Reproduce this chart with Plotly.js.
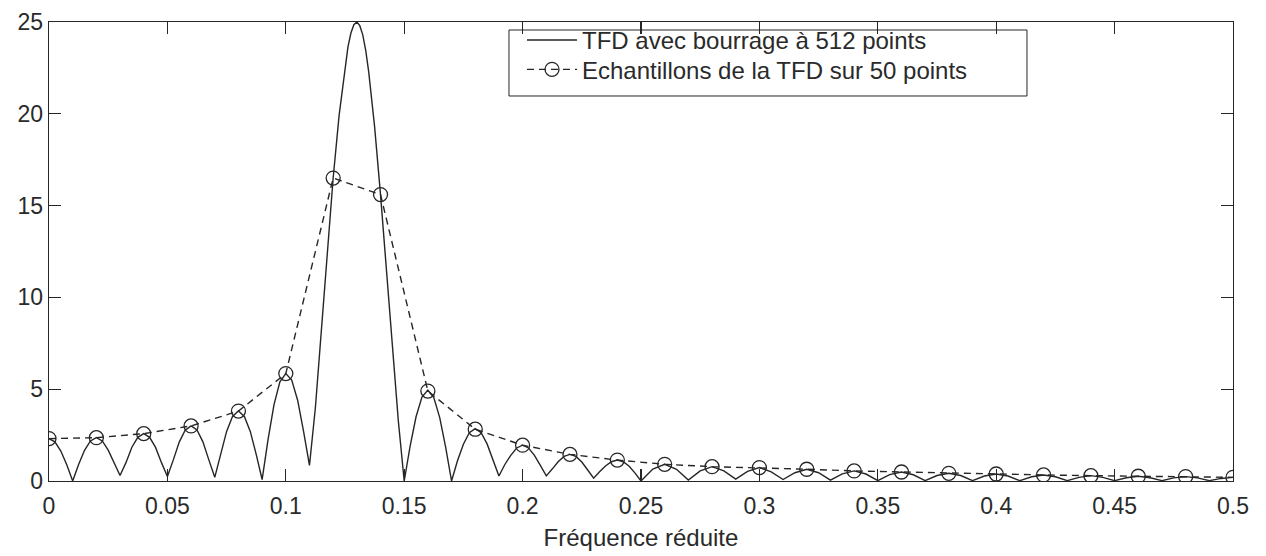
<!DOCTYPE html>
<html>
<head>
<meta charset="utf-8">
<script src="https://cdn.plot.ly/plotly-3.0.1.min.js"></script>
<style>html,body{margin:0;padding:0;background:#fff;}#chart{width:1266px;height:556px;}</style>
</head>
<body>
<div id="chart"></div>
<script>
// TFD avec bourrage à 512 points
const tfdFreq = [
  0, 0.0025, 0.005, 0.0075, 0.01, 0.0125, 0.015, 0.0175, 0.02, 0.0225, 0.025, 0.0275, 0.03,
  0.0325, 0.035, 0.0375, 0.04, 0.0425, 0.045, 0.0475, 0.05,
  0.0525, 0.055, 0.0575, 0.06, 0.0625, 0.065, 0.0675, 0.07,
  0.0725, 0.075, 0.0775, 0.08, 0.0825, 0.085, 0.0875, 0.09,
  0.0925, 0.095, 0.0975, 0.10, 0.1025, 0.105, 0.1075, 0.11,
  0.1125, 0.115, 0.1175, 0.12, 0.1225, 0.125, 0.12625, 0.1275, 0.12875, 0.13,
  0.13125, 0.1325, 0.13375, 0.135, 0.1375, 0.14, 0.1425, 0.145, 0.1475, 0.15,
  0.1525, 0.155, 0.1575, 0.16, 0.1625, 0.165, 0.1675, 0.17,
  0.1725, 0.175, 0.1775, 0.18, 0.1825, 0.185, 0.1875, 0.19,
  0.1925, 0.195, 0.1975, 0.20, 0.2025, 0.205, 0.2075, 0.21,
  0.2125, 0.215, 0.2175, 0.22, 0.2225, 0.225, 0.2275, 0.23,
  0.2325, 0.235, 0.2375, 0.24, 0.2425, 0.245, 0.2475, 0.25,
  0.255, 0.26, 0.265, 0.27, 0.275, 0.28, 0.285, 0.29,
  0.295, 0.30, 0.305, 0.31, 0.315, 0.32, 0.325, 0.33,
  0.335, 0.34, 0.345, 0.35, 0.355, 0.36, 0.365, 0.37,
  0.375, 0.38, 0.385, 0.39, 0.395, 0.40, 0.405, 0.41,
  0.415, 0.42, 0.425, 0.43, 0.435, 0.44, 0.445, 0.45,
  0.455, 0.46, 0.465, 0.47, 0.475, 0.48, 0.485, 0.49,
  0.495, 0.50
];
const tfdMag = [
  2.31, 2.13, 1.63, 0.88, 0.0, 0.90, 1.67, 2.18, 2.36, 2.18, 1.68, 0.95, 0.30,
  1.00, 1.84, 2.38, 2.58, 2.38, 1.83, 1.00, 0.25,
  1.15, 2.12, 2.77, 3.00, 2.78, 2.13, 1.15, 0.20,
  1.45, 2.70, 3.52, 3.81, 3.52, 2.70, 1.45, 0.08,
  2.25, 4.15, 5.40, 5.85, 5.50, 4.40, 2.70, 0.85,
  4.00, 8.00, 12.30, 16.50, 19.90, 22.60, 23.65, 24.40, 24.85, 25.00,
  24.80, 24.30, 23.45, 22.30, 19.30, 15.60, 11.50, 7.30, 3.30, 0.0,
  1.90, 3.50, 4.57, 4.95, 4.55, 3.45, 1.85, 0.0,
  1.10, 2.00, 2.63, 2.85, 2.63, 2.02, 1.15, 0.27,
  0.90, 1.40, 1.80, 1.95, 1.80, 1.40, 0.85, 0.28,
  0.65, 1.05, 1.34, 1.45, 1.34, 1.03, 0.60, 0.15,
  0.50, 0.82, 1.05, 1.14, 1.05, 0.80, 0.43, 0.0,
  0.65, 0.91, 0.64, 0.05, 0.55, 0.78, 0.55, 0.10,
  0.52, 0.73, 0.50, 0.08, 0.45, 0.64, 0.45, 0.05,
  0.39, 0.55, 0.38, 0.02, 0.35, 0.49, 0.34, 0.02,
  0.30, 0.42, 0.30, 0.02, 0.27, 0.38, 0.27, 0.02,
  0.23, 0.33, 0.23, 0.02, 0.20, 0.29, 0.20, 0.02,
  0.18, 0.26, 0.18, 0.02, 0.17, 0.24, 0.17, 0.02,
  0.14, 0.20
];
// Echantillons de la TFD sur 50 points
const sampFreq = [0, 0.02, 0.04, 0.06, 0.08, 0.10, 0.12, 0.14, 0.16, 0.18, 0.20, 0.22, 0.24,
  0.26, 0.28, 0.30, 0.32, 0.34, 0.36, 0.38, 0.40, 0.42, 0.44, 0.46, 0.48, 0.50];
const sampMag = [2.31, 2.36, 2.58, 3.00, 3.81, 5.85, 16.50, 15.60, 4.90, 2.82, 1.95, 1.45, 1.14,
  0.91, 0.78, 0.73, 0.64, 0.55, 0.49, 0.42, 0.38, 0.33, 0.29, 0.26, 0.24, 0.20];

const xTicks = [0, 0.05, 0.1, 0.15, 0.2, 0.25, 0.3, 0.35, 0.4, 0.45, 0.5];
const xTickText = ['0', '0.05', '0.1', '0.15', '0.2', '0.25', '0.3', '0.35', '0.4', '0.45', '0.5'];
const yTicks = [0, 5, 10, 15, 20, 25];

const ink = '#262626';
const fam = 'Liberation Sans, Arial, sans-serif';
const tickFont = {family: fam, size: 23, color: '#2a2a2a'};
const textFont = {family: fam, size: 24, color: '#2a2a2a'};

const traces = [
  {
    x: tfdFreq, y: tfdMag, type: 'scatter', mode: 'lines',
    name: 'TFD avec bourrage à 512 points',
    legend: 'legend',
    line: {color: ink, width: 1.4}
  },
  {
    x: sampFreq, y: sampMag, type: 'scatter', mode: 'lines+markers',
    name: 'Echantillons de la TFD sur 50 points',
    legend: 'legend2',
    line: {color: ink, width: 1.4, dash: '7px,5px'},
    marker: {symbol: 'circle-open', size: 14, color: ink, line: {width: 1.3, color: ink}}
  }
];

const legendBase = {
  xanchor: 'left', yanchor: 'top',
  bgcolor: 'rgba(0,0,0,0)', borderwidth: 0,
  font: textFont, itemwidth: 50
};

const layout = {
  width: 1266, height: 556,
  margin: {l: 49, r: 33, t: 22, b: 75},
  paper_bgcolor: '#fff', plot_bgcolor: '#fff',
  font: textFont,
  showlegend: true,
  legend: Object.assign({}, legendBase, {x: 0.3995, y: 1.009}),
  legend2: Object.assign({}, legendBase, {x: 0.3995, y: 0.945}),
  shapes: [{
    type: 'rect', xref: 'paper', yref: 'paper',
    x0: 0.3885, x1: 0.826, y0: 0.8388, y1: 0.9826,
    line: {color: ink, width: 1}, fillcolor: 'rgba(0,0,0,0)', layer: 'above'
  }],
  xaxis: {
    range: [0, 0.5], tickvals: xTicks, ticktext: xTickText,
    ticks: 'inside', ticklen: 12, tickwidth: 1.2, tickcolor: ink,
    showline: true, linecolor: ink, linewidth: 1.4, mirror: 'ticks',
    showgrid: false, zeroline: false,
    tickfont: tickFont, ticklabelstandoff: 4,
    title: {text: 'Fréquence réduite', font: textFont, standoff: 11}
  },
  yaxis: {
    range: [0, 25], tickvals: yTicks,
    ticks: 'inside', ticklen: 12, tickwidth: 1.2, tickcolor: ink,
    showline: true, linecolor: ink, linewidth: 1.4, mirror: 'ticks',
    showgrid: false, zeroline: false,
    tickfont: tickFont
  }
};

Plotly.newPlot('chart', traces, layout, {displayModeBar: false, staticPlot: true});
</script>
</body>
</html>
